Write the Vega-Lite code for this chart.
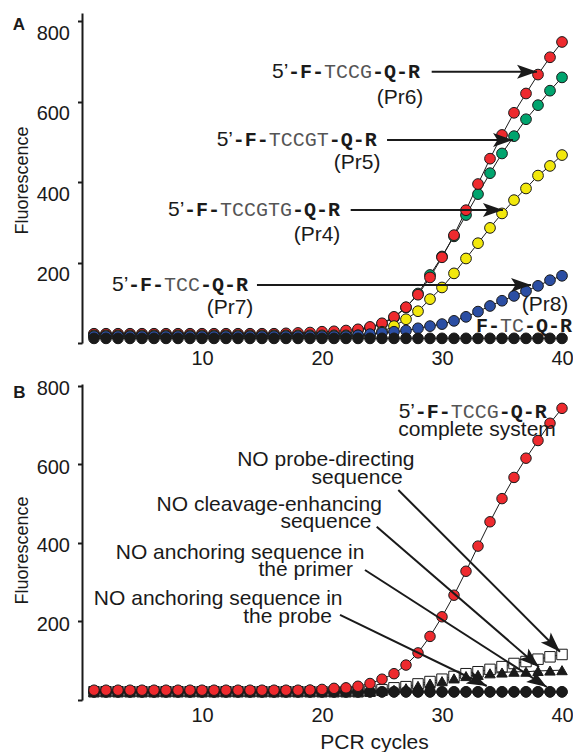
{
  "$schema": "https://vega.github.io/schema/vega-lite/v6.json",
  "padding": {"left": 12, "top": 13, "right": 0, "bottom": 0},
  "bounds": "flush",
  "spacing": 41,
  "resolve": {"scale": {"fill": "independent", "shape": "independent"}},
  "config": {"view": {"stroke": null}, "font": "Liberation Sans"},
  "datasets": {
    "serA": [
      {"s":"Pr5","x":1,"y":22},{"s":"Pr5","x":2,"y":22},{"s":"Pr5","x":3,"y":22},{"s":"Pr5","x":4,"y":22},{"s":"Pr5","x":5,"y":22},{"s":"Pr5","x":6,"y":22},{"s":"Pr5","x":7,"y":22},{"s":"Pr5","x":8,"y":22},{"s":"Pr5","x":9,"y":22},{"s":"Pr5","x":10,"y":22},
      {"s":"Pr5","x":11,"y":22},{"s":"Pr5","x":12,"y":22},{"s":"Pr5","x":13,"y":22},{"s":"Pr5","x":14,"y":22},{"s":"Pr5","x":15,"y":22},{"s":"Pr5","x":16,"y":22},{"s":"Pr5","x":17,"y":22},{"s":"Pr5","x":18,"y":22},{"s":"Pr5","x":19,"y":22},{"s":"Pr5","x":20,"y":22},
      {"s":"Pr5","x":21,"y":22},{"s":"Pr5","x":22,"y":22},{"s":"Pr5","x":23,"y":32},{"s":"Pr5","x":24,"y":38},{"s":"Pr5","x":25,"y":47},{"s":"Pr5","x":26,"y":63},{"s":"Pr5","x":27,"y":88},{"s":"Pr5","x":28,"y":123},{"s":"Pr5","x":29,"y":169},{"s":"Pr5","x":30,"y":215},
      {"s":"Pr5","x":31,"y":265},{"s":"Pr5","x":32,"y":318},{"s":"Pr5","x":33,"y":370},{"s":"Pr5","x":34,"y":422},{"s":"Pr5","x":35,"y":471},{"s":"Pr5","x":36,"y":514},{"s":"Pr5","x":37,"y":556},{"s":"Pr5","x":38,"y":591},{"s":"Pr5","x":39,"y":627},{"s":"Pr5","x":40,"y":660},
      {"s":"Pr6","x":1,"y":23},{"s":"Pr6","x":2,"y":23},{"s":"Pr6","x":3,"y":23},{"s":"Pr6","x":4,"y":23},{"s":"Pr6","x":5,"y":23},{"s":"Pr6","x":6,"y":23},{"s":"Pr6","x":7,"y":23},{"s":"Pr6","x":8,"y":23},{"s":"Pr6","x":9,"y":23},{"s":"Pr6","x":10,"y":23},
      {"s":"Pr6","x":11,"y":23},{"s":"Pr6","x":12,"y":23},{"s":"Pr6","x":13,"y":23},{"s":"Pr6","x":14,"y":23},{"s":"Pr6","x":15,"y":23},{"s":"Pr6","x":16,"y":23},{"s":"Pr6","x":17,"y":24},{"s":"Pr6","x":18,"y":25},{"s":"Pr6","x":19,"y":26},{"s":"Pr6","x":20,"y":28},
      {"s":"Pr6","x":21,"y":29},{"s":"Pr6","x":22,"y":31},{"s":"Pr6","x":23,"y":34},{"s":"Pr6","x":24,"y":40},{"s":"Pr6","x":25,"y":49},{"s":"Pr6","x":26,"y":65},{"s":"Pr6","x":27,"y":89},{"s":"Pr6","x":28,"y":120},{"s":"Pr6","x":29,"y":163},{"s":"Pr6","x":30,"y":213},
      {"s":"Pr6","x":31,"y":268},{"s":"Pr6","x":32,"y":330},{"s":"Pr6","x":33,"y":395},{"s":"Pr6","x":34,"y":458},{"s":"Pr6","x":35,"y":517},{"s":"Pr6","x":36,"y":572},{"s":"Pr6","x":37,"y":620},{"s":"Pr6","x":38,"y":667},{"s":"Pr6","x":39,"y":710},{"s":"Pr6","x":40,"y":748},
      {"s":"Pr4","x":1,"y":19},{"s":"Pr4","x":2,"y":19},{"s":"Pr4","x":3,"y":19},{"s":"Pr4","x":4,"y":19},{"s":"Pr4","x":5,"y":19},{"s":"Pr4","x":6,"y":19},{"s":"Pr4","x":7,"y":19},{"s":"Pr4","x":8,"y":19},{"s":"Pr4","x":9,"y":19},{"s":"Pr4","x":10,"y":19},
      {"s":"Pr4","x":11,"y":19},{"s":"Pr4","x":12,"y":19},{"s":"Pr4","x":13,"y":19},{"s":"Pr4","x":14,"y":19},{"s":"Pr4","x":15,"y":19},{"s":"Pr4","x":16,"y":19},{"s":"Pr4","x":17,"y":19},{"s":"Pr4","x":18,"y":19},{"s":"Pr4","x":19,"y":19},{"s":"Pr4","x":20,"y":19},
      {"s":"Pr4","x":21,"y":19},{"s":"Pr4","x":22,"y":19},{"s":"Pr4","x":23,"y":19},{"s":"Pr4","x":24,"y":19},{"s":"Pr4","x":25,"y":28},{"s":"Pr4","x":26,"y":42},{"s":"Pr4","x":27,"y":59},{"s":"Pr4","x":28,"y":79},{"s":"Pr4","x":29,"y":109},{"s":"Pr4","x":30,"y":138},
      {"s":"Pr4","x":31,"y":173},{"s":"Pr4","x":32,"y":210},{"s":"Pr4","x":33,"y":248},{"s":"Pr4","x":34,"y":286},{"s":"Pr4","x":35,"y":322},{"s":"Pr4","x":36,"y":355},{"s":"Pr4","x":37,"y":384},{"s":"Pr4","x":38,"y":416},{"s":"Pr4","x":39,"y":440},{"s":"Pr4","x":40,"y":467},
      {"s":"Pr7","x":1,"y":17},{"s":"Pr7","x":2,"y":17},{"s":"Pr7","x":3,"y":17},{"s":"Pr7","x":4,"y":17},{"s":"Pr7","x":5,"y":17},{"s":"Pr7","x":6,"y":17},{"s":"Pr7","x":7,"y":17},{"s":"Pr7","x":8,"y":17},{"s":"Pr7","x":9,"y":17},{"s":"Pr7","x":10,"y":17},
      {"s":"Pr7","x":11,"y":17},{"s":"Pr7","x":12,"y":17},{"s":"Pr7","x":13,"y":17},{"s":"Pr7","x":14,"y":17},{"s":"Pr7","x":15,"y":17},{"s":"Pr7","x":16,"y":17},{"s":"Pr7","x":17,"y":17},{"s":"Pr7","x":18,"y":17},{"s":"Pr7","x":19,"y":17},{"s":"Pr7","x":20,"y":17},
      {"s":"Pr7","x":21,"y":17},{"s":"Pr7","x":22,"y":17},{"s":"Pr7","x":23,"y":19},{"s":"Pr7","x":24,"y":22},{"s":"Pr7","x":25,"y":25.6},{"s":"Pr7","x":26,"y":28},{"s":"Pr7","x":27,"y":31},{"s":"Pr7","x":28,"y":36.5},{"s":"Pr7","x":29,"y":42},{"s":"Pr7","x":30,"y":47},
      {"s":"Pr7","x":31,"y":55},{"s":"Pr7","x":32,"y":65},{"s":"Pr7","x":33,"y":78},{"s":"Pr7","x":34,"y":92},{"s":"Pr7","x":35,"y":105},{"s":"Pr7","x":36,"y":117},{"s":"Pr7","x":37,"y":129},{"s":"Pr7","x":38,"y":142},{"s":"Pr7","x":39,"y":156},{"s":"Pr7","x":40,"y":167},
      {"s":"Pr8","x":1,"y":11.5},{"s":"Pr8","x":2,"y":11.5},{"s":"Pr8","x":3,"y":11.5},{"s":"Pr8","x":4,"y":11.5},{"s":"Pr8","x":5,"y":11.5},{"s":"Pr8","x":6,"y":11.5},{"s":"Pr8","x":7,"y":11.5},{"s":"Pr8","x":8,"y":11.5},{"s":"Pr8","x":9,"y":11.5},{"s":"Pr8","x":10,"y":11.5},
      {"s":"Pr8","x":11,"y":11.5},{"s":"Pr8","x":12,"y":11.5},{"s":"Pr8","x":13,"y":11.5},{"s":"Pr8","x":14,"y":11.5},{"s":"Pr8","x":15,"y":11.5},{"s":"Pr8","x":16,"y":11.5},{"s":"Pr8","x":17,"y":11.5},{"s":"Pr8","x":18,"y":11.5},{"s":"Pr8","x":19,"y":11.5},{"s":"Pr8","x":20,"y":11.5},
      {"s":"Pr8","x":21,"y":11.5},{"s":"Pr8","x":22,"y":11.5},{"s":"Pr8","x":23,"y":11.5},{"s":"Pr8","x":24,"y":11.5},{"s":"Pr8","x":25,"y":11.5},{"s":"Pr8","x":26,"y":11.5},{"s":"Pr8","x":27,"y":11.5},{"s":"Pr8","x":28,"y":11.5},{"s":"Pr8","x":29,"y":11.5},{"s":"Pr8","x":30,"y":11.5},
      {"s":"Pr8","x":31,"y":11.5},{"s":"Pr8","x":32,"y":11.5},{"s":"Pr8","x":33,"y":11.5},{"s":"Pr8","x":34,"y":11.5},{"s":"Pr8","x":35,"y":11.5},{"s":"Pr8","x":36,"y":11.5},{"s":"Pr8","x":37,"y":11.5},{"s":"Pr8","x":38,"y":11.5},{"s":"Pr8","x":39,"y":11.5},{"s":"Pr8","x":40,"y":11.5}
    ],
    "serB": [
      {"s":"q","x":1,"y":21},{"s":"q","x":2,"y":21},{"s":"q","x":3,"y":21},{"s":"q","x":4,"y":21},{"s":"q","x":5,"y":21},{"s":"q","x":6,"y":21},{"s":"q","x":7,"y":21},{"s":"q","x":8,"y":21},{"s":"q","x":9,"y":21},{"s":"q","x":10,"y":21},
      {"s":"q","x":11,"y":21},{"s":"q","x":12,"y":21},{"s":"q","x":13,"y":21},{"s":"q","x":14,"y":21},{"s":"q","x":15,"y":21},{"s":"q","x":16,"y":21},{"s":"q","x":17,"y":21},{"s":"q","x":18,"y":21},{"s":"q","x":19,"y":21},{"s":"q","x":20,"y":21},
      {"s":"q","x":21,"y":21},{"s":"q","x":22,"y":21},{"s":"q","x":23,"y":21},{"s":"q","x":24,"y":23},{"s":"q","x":25,"y":26},{"s":"q","x":26,"y":31},{"s":"q","x":27,"y":34},{"s":"q","x":28,"y":41},{"s":"q","x":29,"y":47},{"s":"q","x":30,"y":53},
      {"s":"q","x":31,"y":60},{"s":"q","x":32,"y":67},{"s":"q","x":33,"y":72},{"s":"q","x":34,"y":78},{"s":"q","x":35,"y":85},{"s":"q","x":36,"y":93},{"s":"q","x":37,"y":98},{"s":"q","x":38,"y":104},{"s":"q","x":39,"y":110},{"s":"q","x":40,"y":116},
      {"s":"t","x":1,"y":21},{"s":"t","x":2,"y":21},{"s":"t","x":3,"y":21},{"s":"t","x":4,"y":21},{"s":"t","x":5,"y":21},{"s":"t","x":6,"y":21},{"s":"t","x":7,"y":21},{"s":"t","x":8,"y":21},{"s":"t","x":9,"y":21},{"s":"t","x":10,"y":21},
      {"s":"t","x":11,"y":21},{"s":"t","x":12,"y":21},{"s":"t","x":13,"y":21},{"s":"t","x":14,"y":21},{"s":"t","x":15,"y":21},{"s":"t","x":16,"y":21},{"s":"t","x":17,"y":21},{"s":"t","x":18,"y":21},{"s":"t","x":19,"y":21},{"s":"t","x":20,"y":21},
      {"s":"t","x":21,"y":21},{"s":"t","x":22,"y":21},{"s":"t","x":23,"y":21},{"s":"t","x":24,"y":21},{"s":"t","x":25,"y":23},{"s":"t","x":26,"y":26},{"s":"t","x":27,"y":30},{"s":"t","x":28,"y":36},{"s":"t","x":29,"y":42},{"s":"t","x":30,"y":48},
      {"s":"t","x":31,"y":55},{"s":"t","x":32,"y":61},{"s":"t","x":33,"y":64},{"s":"t","x":34,"y":68},{"s":"t","x":35,"y":70},{"s":"t","x":36,"y":72},{"s":"t","x":37,"y":72},{"s":"t","x":38,"y":74},{"s":"t","x":39,"y":75},{"s":"t","x":40,"y":76},
      {"s":"k1","x":1,"y":21},{"s":"k1","x":2,"y":21},{"s":"k1","x":3,"y":21},{"s":"k1","x":4,"y":21},{"s":"k1","x":5,"y":21},{"s":"k1","x":6,"y":21},{"s":"k1","x":7,"y":21},{"s":"k1","x":8,"y":21},{"s":"k1","x":9,"y":21},{"s":"k1","x":10,"y":21},
      {"s":"k1","x":11,"y":21},{"s":"k1","x":12,"y":21},{"s":"k1","x":13,"y":21},{"s":"k1","x":14,"y":21},{"s":"k1","x":15,"y":21},{"s":"k1","x":16,"y":21},{"s":"k1","x":17,"y":21},{"s":"k1","x":18,"y":21},{"s":"k1","x":19,"y":21},{"s":"k1","x":20,"y":21},
      {"s":"k1","x":21,"y":21},{"s":"k1","x":22,"y":21},{"s":"k1","x":23,"y":21},{"s":"k1","x":24,"y":21},{"s":"k1","x":25,"y":21},{"s":"k1","x":26,"y":21},{"s":"k1","x":27,"y":21},{"s":"k1","x":28,"y":21},{"s":"k1","x":29,"y":21},{"s":"k1","x":30,"y":21},
      {"s":"k1","x":31,"y":21},{"s":"k1","x":32,"y":21},{"s":"k1","x":33,"y":21},{"s":"k1","x":34,"y":21},{"s":"k1","x":35,"y":21},{"s":"k1","x":36,"y":21},{"s":"k1","x":37,"y":21},{"s":"k1","x":38,"y":21},{"s":"k1","x":39,"y":21},{"s":"k1","x":40,"y":21},
      {"s":"k2","x":1,"y":20.5},{"s":"k2","x":2,"y":20.5},{"s":"k2","x":3,"y":20.5},{"s":"k2","x":4,"y":20.5},{"s":"k2","x":5,"y":20.5},{"s":"k2","x":6,"y":20.5},{"s":"k2","x":7,"y":20.5},{"s":"k2","x":8,"y":20.5},{"s":"k2","x":9,"y":20.5},{"s":"k2","x":10,"y":20.5},
      {"s":"k2","x":11,"y":20.5},{"s":"k2","x":12,"y":20.5},{"s":"k2","x":13,"y":20.5},{"s":"k2","x":14,"y":20.5},{"s":"k2","x":15,"y":20.5},{"s":"k2","x":16,"y":20.5},{"s":"k2","x":17,"y":20.5},{"s":"k2","x":18,"y":20.5},{"s":"k2","x":19,"y":20.5},{"s":"k2","x":20,"y":20.5},
      {"s":"k2","x":21,"y":20.5},{"s":"k2","x":22,"y":20.5},{"s":"k2","x":23,"y":20.5},{"s":"k2","x":24,"y":20.5},{"s":"k2","x":25,"y":20.5},{"s":"k2","x":26,"y":20.5},{"s":"k2","x":27,"y":20.5},{"s":"k2","x":28,"y":20.5},{"s":"k2","x":29,"y":20.5},{"s":"k2","x":30,"y":20.5},
      {"s":"k2","x":31,"y":20.5},{"s":"k2","x":32,"y":20.5},{"s":"k2","x":33,"y":20.5},{"s":"k2","x":34,"y":20.5},{"s":"k2","x":35,"y":20.5},{"s":"k2","x":36,"y":20.5},{"s":"k2","x":37,"y":20.5},{"s":"k2","x":38,"y":20.5},{"s":"k2","x":39,"y":20.5},{"s":"k2","x":40,"y":20.5},
      {"s":"r","x":1,"y":25},{"s":"r","x":2,"y":25},{"s":"r","x":3,"y":25},{"s":"r","x":4,"y":25},{"s":"r","x":5,"y":25},{"s":"r","x":6,"y":25},{"s":"r","x":7,"y":25},{"s":"r","x":8,"y":25},{"s":"r","x":9,"y":25},{"s":"r","x":10,"y":25},
      {"s":"r","x":11,"y":25},{"s":"r","x":12,"y":25},{"s":"r","x":13,"y":25},{"s":"r","x":14,"y":25},{"s":"r","x":15,"y":25},{"s":"r","x":16,"y":25},{"s":"r","x":17,"y":25},{"s":"r","x":18,"y":25},{"s":"r","x":19,"y":25.5},{"s":"r","x":20,"y":27},
      {"s":"r","x":21,"y":29.7},{"s":"r","x":22,"y":31},{"s":"r","x":23,"y":35},{"s":"r","x":24,"y":42},{"s":"r","x":25,"y":53},{"s":"r","x":26,"y":67},{"s":"r","x":27,"y":89},{"s":"r","x":28,"y":120},{"s":"r","x":29,"y":162},{"s":"r","x":30,"y":212},
      {"s":"r","x":31,"y":267},{"s":"r","x":32,"y":328},{"s":"r","x":33,"y":392},{"s":"r","x":34,"y":454},{"s":"r","x":35,"y":513},{"s":"r","x":36,"y":567},{"s":"r","x":37,"y":616},{"s":"r","x":38,"y":661},{"s":"r","x":39,"y":705},{"s":"r","x":40,"y":743}
    ],
    "seqA": [
      {"x":15.83,"y":674,"p":"5’","b":"-F-\u00a0\u00a0\u00a0\u00a0-Q-R","t":"\u200b\u00a0\u00a0\u00a0TCCG"},
      {"x":11.22,"y":504.3,"p":"5’","b":"-F-\u00a0\u00a0\u00a0\u00a0\u00a0-Q-R","t":"\u200b\u00a0\u00a0\u00a0TCCGT"},
      {"x":7.17,"y":330.4,"p":"5’","b":"-F-\u00a0\u00a0\u00a0\u00a0\u00a0\u00a0-Q-R","t":"\u200b\u00a0\u00a0\u00a0TCCGTG"},
      {"x":2.5,"y":144.1,"p":"5’","b":"-F-\u00a0\u00a0\u00a0-Q-R","t":"\u200b\u00a0\u00a0\u00a0TCC"},
      {"x":31.5,"y":43,"p":"","b":"F-\u00a0\u00a0-Q-R","t":"\u200b\u00a0\u00a0TC"}
    ],
    "prA": [
      {"x":26.5,"y":608.7,"t":"(Pr6)"},
      {"x":22.92,"y":447.2,"t":"(Pr5)"},
      {"x":19.58,"y":268.3,"t":"(Pr4)"},
      {"x":12.33,"y":87,"t":"(Pr7)"},
      {"x":38.58,"y":94.4,"t":"(Pr8)"}
    ],
    "arrA": [
      {"x":37.92,"y":674,"x2":29.14,"y2":674},
      {"x":35.92,"y":504.3,"x2":25.42,"y2":504.3},
      {"x":35.08,"y":330.4,"x2":22.39,"y2":330.4},
      {"x":37.42,"y":144.1,"x2":14.58,"y2":144.1}
    ],
    "labA": [{"x":-5.78,"y":777.6,"t":"A"}],
    "labB": [{"x":-5.73,"y":769.4,"t":"B"}],
    "seqB": [
      {"x":26.39,"y":734.5,"p":"5’","b":"-F-\u00a0\u00a0\u00a0\u00a0-Q-R","t":"\u200b\u00a0\u00a0\u00a0TCCG"}
    ],
    "txtB": [
      {"x":32.92,"y":687.9,"t":"complete system"},
      {"x":20.32,"y":611.5,"t":"NO probe-directing"},
      {"x":22.92,"y":565.6,"t":"sequence"},
      {"x":15.6,"y":496.8,"t":"NO cleavage-enhancing"},
      {"x":20.33,"y":454.3,"t":"sequence"},
      {"x":13.17,"y":375.3,"t":"NO anchoring sequence in"},
      {"x":18.65,"y":331.2,"t":"the primer"},
      {"x":11.35,"y":256.6,"t":"NO anchoring sequence in"},
      {"x":17.13,"y":212.2,"t":"the probe"}
    ],
    "arrB": [
      {"id":"a1","x":39.83,"y":123.1,"x2":26.36,"y2":535},
      {"id":"a2","x":38.08,"y":84.1,"x2":24.56,"y2":441.5},
      {"id":"a3","x":38.73,"y":33.1,"x2":23.58,"y2":331.2},
      {"id":"a4","x":33.73,"y":35.7,"x2":21.5,"y2":216.6}
    ]
  },
  "vconcat": [
    {
      "width": 486,
      "height": 330,
      "encoding": {
        "x": {"field": "x", "type": "quantitative", "scale": {"domain": [0, 40.5]},
          "axis": {"values": [10, 20, 30, 40], "ticks": false, "domain": false, "grid": false, "labelFontSize": 20, "labelColor": "#1a1a1a", "labelPadding": 5, "title": null}},
        "y": {"field": "y", "type": "quantitative", "scale": {"domain": [0, 820]},
          "axis": {"values": [0, 200, 400, 600, 800], "labelExpr": "datum.value == 0 ? '' : datum.label", "grid": false, "domainColor": "#1a1a1a", "domainWidth": 2, "tickColor": "#1a1a1a", "tickWidth": 2, "tickSize": 4.5, "labelFontSize": 20, "labelColor": "#1a1a1a", "labelPadding": 8, "labelOffset": 12,
            "title": "Fluorescence", "titleFontSize": 18, "titleFontWeight": "normal", "titleColor": "#1a1a1a", "titleX": -55, "titleY": 167, "titleAngle": 270, "titleBaseline": "alphabetic"}}
      },
      "layer": [
        {"data": {"name": "serA"}, "mark": {"type": "line", "color": "#1a1a1a", "strokeWidth": 1}, "encoding": {"detail": {"field": "s"}}},
        {"data": {"name": "serA"}, "mark": {"type": "point", "filled": true, "size": 115, "stroke": "#1a1a1a", "strokeWidth": 1, "opacity": 1},
          "encoding": {"fill": {"field": "s", "type": "nominal", "legend": null, "scale": {"domain": ["Pr5", "Pr6", "Pr4", "Pr7", "Pr8"], "range": ["#00a46e", "#ee2a2e", "#f2e80c", "#2b4ea3", "#1a1a1a"]}}}},
        {"data": {"name": "arrA"}, "mark": {"type": "rule", "color": "#1a1a1a", "strokeWidth": 2}, "encoding": {"x2": {"field": "x2"}, "y2": {"field": "y2"}}},
        {"data": {"name": "arrA"}, "mark": {"type": "point", "shape": "M0,0 L-1,-0.35 L-0.78,0 L-1,0.35 Z", "filled": true, "size": 1600, "color": "#1a1a1a", "opacity": 1, "strokeWidth": 0}, "encoding": {}},
        {"data": {"name": "seqA"}, "mark": {"type": "text", "align": "left", "baseline": "middle", "fontSize": 21, "color": "#1a1a1a"}, "encoding": {"text": {"field": "p"}}},
        {"data": {"name": "seqA"}, "mark": {"type": "text", "align": "left", "baseline": "middle", "dx": 16, "font": "Liberation Mono", "fontWeight": "bold", "fontSize": 20, "color": "#1a1a1a"}, "encoding": {"text": {"field": "b"}}},
        {"data": {"name": "seqA"}, "mark": {"type": "text", "align": "left", "baseline": "middle", "dx": 16, "font": "Liberation Mono", "fontSize": 20, "color": "#555555"}, "encoding": {"text": {"field": "t"}}},
        {"data": {"name": "prA"}, "mark": {"type": "text", "align": "center", "baseline": "middle", "fontSize": 21, "color": "#1a1a1a"}, "encoding": {"text": {"field": "t"}}},
        {"data": {"name": "labA"}, "mark": {"type": "text", "align": "left", "baseline": "alphabetic", "fontSize": 17, "fontWeight": "bold", "color": "#1a1a1a"}, "encoding": {"text": {"field": "t"}}}
      ]
    },
    {
      "width": 486,
      "height": 316,
      "encoding": {
        "x": {"field": "x", "type": "quantitative", "scale": {"domain": [0, 40.5]},
          "axis": {"values": [10, 20, 30, 40], "ticks": false, "domain": false, "grid": false, "labelFontSize": 20, "labelColor": "#1a1a1a", "labelPadding": 5,
            "title": "PCR cycles", "titleFontSize": 21, "titleFontWeight": "normal", "titleColor": "#1a1a1a", "titleX": 292, "titleY": 48.5, "titleBaseline": "alphabetic"}},
        "y": {"field": "y", "type": "quantitative", "scale": {"domain": [0, 805]},
          "axis": {"values": [0, 200, 400, 600, 800], "labelExpr": "datum.value == 0 ? '' : datum.label", "grid": false, "domainColor": "#1a1a1a", "domainWidth": 2, "tickColor": "#1a1a1a", "tickWidth": 2, "tickSize": 4.5, "labelFontSize": 20, "labelColor": "#1a1a1a", "labelPadding": 8, "labelOffset": 3,
            "title": "Fluorescence", "titleFontSize": 18, "titleFontWeight": "normal", "titleColor": "#1a1a1a", "titleX": -55, "titleY": 166, "titleAngle": 270, "titleBaseline": "alphabetic"}}
      },
      "layer": [
        {"data": {"name": "serB"}, "mark": {"type": "line", "color": "#1a1a1a", "strokeWidth": 1}, "encoding": {"detail": {"field": "s"}}},
        {"data": {"name": "serB"}, "mark": {"type": "point", "filled": true, "size": 110, "stroke": "#1a1a1a", "strokeWidth": 1, "opacity": 1},
          "encoding": {
            "fill": {"field": "s", "type": "nominal", "legend": null, "scale": {"domain": ["q", "t", "k1", "k2", "r"], "range": ["#ffffff", "#1a1a1a", "#1a1a1a", "#1a1a1a", "#ee2a2e"]}},
            "shape": {"field": "s", "type": "nominal", "legend": null, "scale": {"domain": ["q", "t", "k1", "k2", "r"], "range": ["square", "triangle-up", "circle", "circle", "circle"]}}}},
        {"data": {"name": "arrB"}, "mark": {"type": "rule", "color": "#1a1a1a", "strokeWidth": 2}, "encoding": {"x2": {"field": "x2"}, "y2": {"field": "y2"}}},
        {"data": {"name": "arrB"}, "transform": [{"filter": "datum.id == 'a1'"}], "mark": {"type": "point", "shape": "M0,0 L-1,-0.35 L-0.78,0 L-1,0.35 Z", "angle": 45, "filled": true, "size": 1600, "color": "#1a1a1a", "opacity": 1, "strokeWidth": 0}, "encoding": {}},
        {"data": {"name": "arrB"}, "transform": [{"filter": "datum.id == 'a2'"}], "mark": {"type": "point", "shape": "M0,0 L-1,-0.35 L-0.78,0 L-1,0.35 Z", "angle": 40.8, "filled": true, "size": 1600, "color": "#1a1a1a", "opacity": 1, "strokeWidth": 0}, "encoding": {}},
        {"data": {"name": "arrB"}, "transform": [{"filter": "datum.id == 'a3'"}], "mark": {"type": "point", "shape": "M0,0 L-1,-0.35 L-0.78,0 L-1,0.35 Z", "angle": 32.8, "filled": true, "size": 1600, "color": "#1a1a1a", "opacity": 1, "strokeWidth": 0}, "encoding": {}},
        {"data": {"name": "arrB"}, "transform": [{"filter": "datum.id == 'a4'"}], "mark": {"type": "point", "shape": "M0,0 L-1,-0.35 L-0.78,0 L-1,0.35 Z", "angle": 25.8, "filled": true, "size": 1600, "color": "#1a1a1a", "opacity": 1, "strokeWidth": 0}, "encoding": {}},
        {"data": {"name": "seqB"}, "mark": {"type": "text", "align": "left", "baseline": "middle", "fontSize": 21, "color": "#1a1a1a"}, "encoding": {"text": {"field": "p"}}},
        {"data": {"name": "seqB"}, "mark": {"type": "text", "align": "left", "baseline": "middle", "dx": 16, "font": "Liberation Mono", "fontWeight": "bold", "fontSize": 20, "color": "#1a1a1a"}, "encoding": {"text": {"field": "b"}}},
        {"data": {"name": "seqB"}, "mark": {"type": "text", "align": "left", "baseline": "middle", "dx": 16, "font": "Liberation Mono", "fontSize": 20, "color": "#555555"}, "encoding": {"text": {"field": "t"}}},
        {"data": {"name": "txtB"}, "mark": {"type": "text", "align": "center", "baseline": "middle", "fontSize": 21, "color": "#1a1a1a"}, "encoding": {"text": {"field": "t"}}},
        {"data": {"name": "labB"}, "mark": {"type": "text", "align": "left", "baseline": "alphabetic", "fontSize": 17, "fontWeight": "bold", "color": "#1a1a1a"}, "encoding": {"text": {"field": "t"}}}
      ]
    }
  ]
}
